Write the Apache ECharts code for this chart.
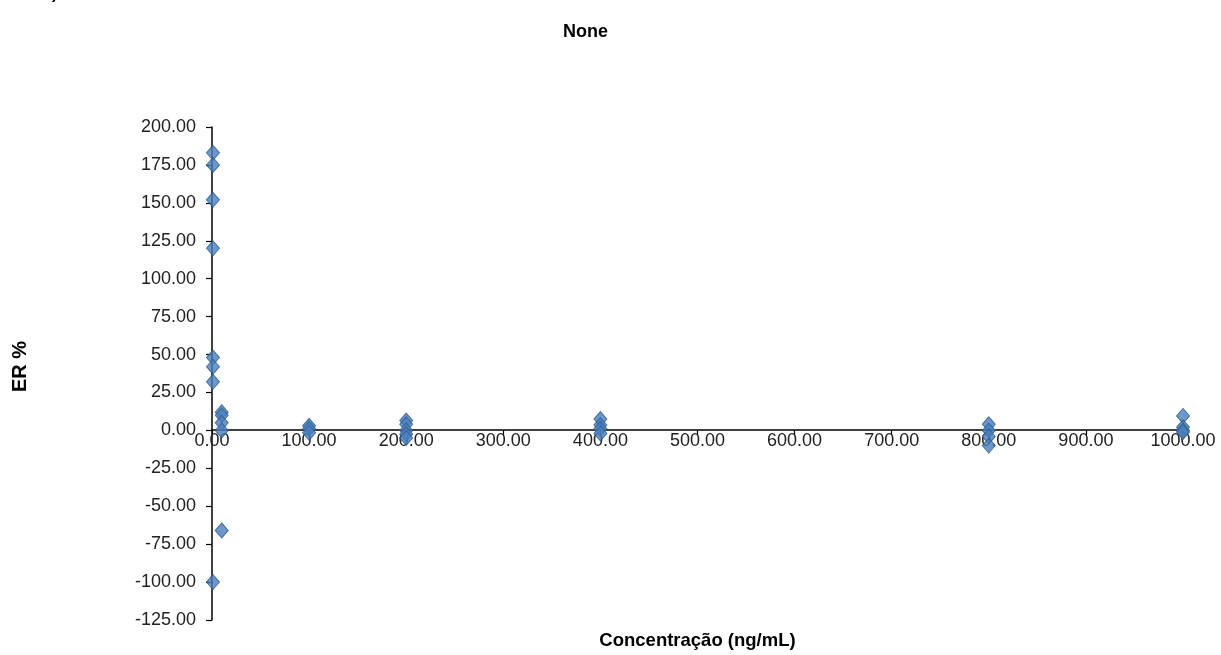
<!DOCTYPE html>
<html>
<head>
<meta charset="utf-8">
<title>ER % vs Concentração</title>
<script src="https://cdn.jsdelivr.net/npm/echarts@6/dist/echarts.min.js"></script>
<style>
  html, body { margin: 0; padding: 0; background: #ffffff; }
  #chart { width: 1221px; height: 655px; }
</style>
</head>
<body>
<div id="chart"></div>
<script>
// Nominal concentrations (ng/mL) and relative error (%) of each replicate
const concentrations = [1, 1, 1, 1, 1, 1, 1, 1,
                        10, 10, 10, 10, 10,
                        100, 100, 100,
                        200, 200, 200, 200, 200,
                        400, 400, 400, 400,
                        800, 800, 800, 800,
                        1000, 1000, 1000, 1000];
const errorPercent = [183, 175, 152, 120, 48, 42, 32, -100,
                      12, 10, 5, 0, -66,
                      3, 1, -1.5,
                      6.5, 4, 0, -2.5, -5,
                      7.5, 3.5, 1, -2,
                      4, 0, -4, -10,
                      9.5, 2, 0, -1];

const xTicks = { min: 0, max: 1000, interval: 100 };
const yTicks = { min: -125, max: 200, interval: 25 };

const points = concentrations.map((c, i) => [c, errorPercent[i]]);
const fmt = v => Number(v).toFixed(2);
const font = 'Liberation Sans, Arial, sans-serif';

// plot box
const GRID = { left: 212, right: 38, top: 127, bottom: 34 };
const plotHeight = 655 - GRID.top - GRID.bottom;
// distance from the bottom edge of the plot up to the ER = 0 line
const zeroLift = plotHeight * (0 - yTicks.min) / (yTicks.max - yTicks.min);

const chart = echarts.init(document.getElementById('chart'), null, { renderer: 'canvas' });
chart.setOption({
  animation: false,
  backgroundColor: '#ffffff',
  textStyle: { fontFamily: font },
  title: {
    text: 'None',
    left: 558,
    top: 18,
    textStyle: { fontFamily: font, fontSize: 18, fontWeight: 'bold', color: '#000' }
  },
  graphic: [{
    type: 'text',
    left: 52,
    top: -13,
    style: { text: ')', fontFamily: font, fontSize: 16, fontWeight: 'bold', fill: '#000' }
  }],
  grid: Object.assign({ containLabel: false }, GRID),
  xAxis: [{
    // axis drawn along ER = 0, labels hanging just under it
    type: 'value',
    position: 'bottom',
    offset: -zeroLift,
    min: xTicks.min, max: xTicks.max, interval: xTicks.interval,
    axisLine: { show: true, onZero: false, lineStyle: { color: '#000', width: 1.5 } },
    axisTick: { show: true, inside: false, length: 5, lineStyle: { color: '#000', width: 1.2 } },
    axisLabel: { formatter: fmt, fontSize: 18, color: '#222', margin: 2, fontFamily: font },
    splitLine: { show: false }
  }, {
    // carries only the title under the plot
    type: 'value',
    position: 'bottom',
    min: xTicks.min, max: xTicks.max,
    axisLine: { show: false, onZero: false },
    axisTick: { show: false },
    axisLabel: { show: false },
    splitLine: { show: false },
    name: 'Concentração (ng/mL)',
    nameLocation: 'middle',
    nameGap: 11,
    nameTextStyle: { fontFamily: font, fontSize: 18.5, fontWeight: 'bold', color: '#000' }
  }],
  yAxis: {
    type: 'value',
    min: yTicks.min, max: yTicks.max, interval: yTicks.interval,
    axisLine: { show: true, onZero: false, lineStyle: { color: '#000', width: 1.5 } },
    axisTick: { show: true, inside: false, length: 6, lineStyle: { color: '#000', width: 1.2 } },
    axisLabel: { formatter: fmt, fontSize: 18, color: '#222', margin: 16, fontFamily: font },
    splitLine: { show: false },
    name: 'ER %',
    nameLocation: 'middle',
    nameRotate: 90,
    nameGap: 182,
    nameTextStyle: { fontFamily: font, fontSize: 20, fontWeight: 'bold', color: '#000', padding: [0, 0, 0, 14] }
  },
  series: [{
    type: 'scatter',
    xAxisIndex: 0,
    data: points,
    symbol: 'diamond',
    symbolSize: [13, 15],
    itemStyle: { color: '#4A7EBB', borderColor: '#2C5B90', borderWidth: 1 }
  }]
});
</script>
</body>
</html>
